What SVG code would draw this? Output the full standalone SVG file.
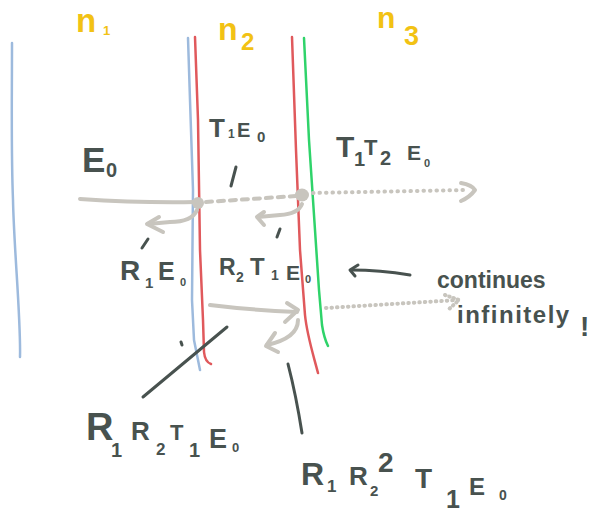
<svg xmlns="http://www.w3.org/2000/svg" width="596" height="512" viewBox="0 0 596 512">
<defs>
<style>
.t{font-family:"Liberation Sans",Arial,sans-serif;font-weight:bold;fill:#48524F}
.y{font-family:"Liberation Sans",Arial,sans-serif;font-weight:bold;fill:#F2C214}
.g{stroke:#C8C5BE;fill:none;stroke-width:4;stroke-linecap:round;stroke-linejoin:round}
.d{stroke:#48524F;fill:none;stroke-width:3;stroke-linecap:round;stroke-linejoin:round}
.ln{fill:none;stroke-width:2.5;stroke-linecap:round;stroke-linejoin:round}
</style>
</defs>
<rect width="596" height="512" fill="#ffffff"/>
<g id="interfaces">
<path class="ln" stroke="#9DBADD" d="M12,43 C12,100 11,150 13,200 C14,250 21,320 20,357"/>
<path class="ln" stroke="#9DBADD" d="M188,38 L190,100 L193,190 L192,300 L194,340 L200,370"/>
<path class="ln" stroke="#E0595C" d="M195,37 L198,120 L200,250 L203,320 L204,352 Q205,362 211,364"/>
<path class="ln" stroke="#E0595C" d="M292,37 L296,150 L300,250 L305,315 C307,335 312,350 318,373"/>
<path class="ln" stroke="#2FD36A" d="M304,38 L309,140 L315,230 L319,290 L322,325 Q324,338 328,346"/>
</g>
<g id="labels-n">
<text class="y"><tspan x="76" y="32" font-size="33">n</tspan><tspan x="103" y="35" font-size="13">1</tspan></text>
<text class="y"><tspan x="218" y="40" font-size="32">n</tspan><tspan x="241" y="50" font-size="24">2</tspan></text>
<text class="y"><tspan x="377" y="28" font-size="30">n</tspan><tspan x="404" y="45" font-size="27">3</tspan></text>
</g>
<g id="connectors">
<path class="g" d="M80,199 Q140,203 195,202"/>
<circle cx="198" cy="203" r="6" fill="#C8C5BE"/>
<path class="g" stroke-width="3" stroke-dasharray="6,6" d="M206,202 L296,196"/>
<ellipse cx="302" cy="195" rx="7" ry="6.5" fill="#C8C5BE"/>
<path class="g" stroke-width="2.5" stroke-dasharray="0.5,6" d="M313,193 L466,190"/>
<path class="g" stroke-width="5" d="M461,183 Q472,185 475,190 Q470,197 461,201"/>
<path class="g" d="M197,210 Q192,222 170,222 L148,224"/>
<path class="g" d="M159,217 L147,224 L163,232"/>
<path class="g" d="M302,204 Q298,214 280,215 L258,217"/>
<path class="g" d="M264,212 L257,217 L264,225"/>
<path class="g" d="M210,305 Q250,310 297,312"/>
<path class="g" d="M287,303 L298,310 L285,322"/>
<path class="g" d="M298,320 Q298,338 267,345"/>
<path class="g" d="M275,333 L266,346 L278,352"/>
<path class="g" stroke-width="2" stroke-dasharray="0.5,5" d="M326,308 L458,300"/>
<path class="g" stroke-width="2" stroke-dasharray="0.5,4" d="M445,295 L459,300 L448,310"/>
<path class="d" d="M410,275 Q380,270 351,270"/>
<path class="d" d="M358,265 L350,270 L355,276"/>
<path class="d" d="M227,327 L143,397"/>
<path class="d" d="M288,364 Q296,395 302,433"/>
<path class="d" d="M181,342 L182,345"/>
<path class="d" d="M236,167 L231,186"/>
<path class="d" d="M280,229 L277,237"/>
<path class="d" d="M148,239 L142,248"/>
</g>
<g id="texts">
<text class="t"><tspan x="82" y="172" font-size="35">E</tspan><tspan x="106" y="177" font-size="20">0</tspan></text>
<text class="t"><tspan x="209" y="137" font-size="26">T</tspan><tspan x="228" y="138" font-size="12">1</tspan><tspan x="237" y="137" font-size="20">E</tspan><tspan x="257" y="142" font-size="15">0</tspan></text>
<text class="t"><tspan x="336" y="157" font-size="30">T</tspan><tspan x="354" y="166" font-size="20">1</tspan><tspan x="364" y="155" font-size="22">T</tspan><tspan x="380" y="165" font-size="20">2</tspan><tspan x="407" y="160" font-size="21">E</tspan><tspan x="424" y="167" font-size="11">0</tspan></text>
<text class="t"><tspan x="120" y="280" font-size="28">R</tspan><tspan x="145" y="288" font-size="15">1</tspan><tspan x="158" y="280" font-size="25">E</tspan><tspan x="180" y="286" font-size="11">0</tspan></text>
<text class="t"><tspan x="219" y="275" font-size="23">R</tspan><tspan x="236" y="282" font-size="14">2</tspan><tspan x="250" y="275" font-size="24">T</tspan><tspan x="271" y="280" font-size="14">1</tspan><tspan x="286" y="280" font-size="21">E</tspan><tspan x="305" y="283" font-size="11">0</tspan></text>
<text class="t" x="437" y="288" font-size="23">continues</text>
<text class="t" x="457" y="323" font-size="24" letter-spacing="1.5">infinitely</text>
<text class="t" x="580" y="336" font-size="28">!</text>
<text class="t"><tspan x="86" y="440" font-size="38">R</tspan><tspan x="111" y="457" font-size="20">1</tspan><tspan x="131" y="440" font-size="26">R</tspan><tspan x="156" y="455" font-size="17">2</tspan><tspan x="170" y="440" font-size="22">T</tspan><tspan x="189" y="457" font-size="20">1</tspan><tspan x="209" y="448" font-size="27">E</tspan><tspan x="232" y="452" font-size="13">0</tspan></text>
<text class="t"><tspan x="301" y="485" font-size="32">R</tspan><tspan x="327" y="492" font-size="17">1</tspan><tspan x="349" y="485" font-size="26">R</tspan><tspan x="370" y="496" font-size="15">2</tspan><tspan x="378" y="472" font-size="28">2</tspan><tspan x="415" y="488" font-size="28">T</tspan><tspan x="446" y="508" font-size="25">1</tspan><tspan x="469" y="495" font-size="24">E</tspan><tspan x="499" y="500" font-size="14">0</tspan></text>
</g>
</svg>
